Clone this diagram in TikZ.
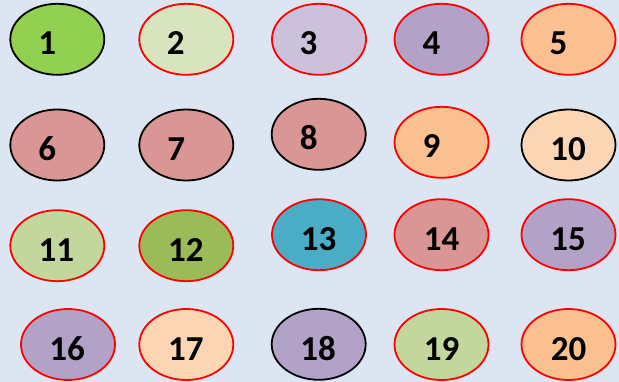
\documentclass[tikz,border=0pt]{standalone}
\usepackage{fontspec}
\setmainfont{Carlito}
\usetikzlibrary{shapes.geometric}
\definecolor{bg}{HTML}{DCE6F2}
\definecolor{cA}{HTML}{92D050}
\definecolor{cB}{HTML}{D7E4BD}
\definecolor{cC}{HTML}{CCC1DA}
\definecolor{cD}{HTML}{B3A2C7}
\definecolor{cE}{HTML}{FAC090}
\definecolor{cF}{HTML}{D99694}
\definecolor{cG}{HTML}{FCD5B5}
\definecolor{cH}{HTML}{C3D69B}
\definecolor{cI}{HTML}{9BBB59}
\definecolor{cJ}{HTML}{4BACC6}
\definecolor{rd}{HTML}{FF0000}
\tikzset{
  oval/.style={ellipse, minimum width=94pt, minimum height=71pt, inner sep=0pt, line width=1.8pt},
  num/.style={anchor=base, inner sep=0pt, font=\fontsize{35}{40}\selectfont\bfseries, text=black}
}
\begin{document}
\begin{tikzpicture}[x=1pt,y=-1pt]
\fill[bg] (0,0) rectangle (619,382);
\useasboundingbox (0,0) rectangle (619,382);
\foreach \n/\x/\y/\f/\b/\dx in {
  1/57.3/39.3/cA/black/-10,
  2/186.3/39.3/cB/rd/-10.5,
  3/319/39.3/cC/rd/-10.5,
  4/441.5/39.3/cD/rd/-10,
  5/568.5/39.3/cE/rd/-10,
  6/57.3/145/cF/black/-10,
  7/186.3/145/cF/black/-10,
  8/318.7/134.3/cF/black/-10,
  9/441.5/142.3/cE/rd/-10,
  10/568.5/145/cG/black/-0.5,
  11/57.3/245.7/cH/rd/-1,
  12/186.3/245.7/cI/rd/-0.5,
  13/319/234.7/cJ/rd/-0.5,
  14/441.5/234.7/cF/rd/0,
  15/568.5/234.7/cD/rd/-0.3,
  16/68/344.5/cD/rd/-0.8,
  17/186.3/344.5/cG/rd/-0.5,
  18/318.7/344.3/cD/black/-0.5,
  19/441.5/344.5/cH/rd/0,
  20/568.5/344.5/cE/rd/0}
{
  \node[oval, fill=\f, draw=\b] (e\n) at (\x,\y) {};
  \node[num] (t\n) at ([shift={(\dx,15.7)}]e\n.center) {\n};
}
\end{tikzpicture}
\end{document}
